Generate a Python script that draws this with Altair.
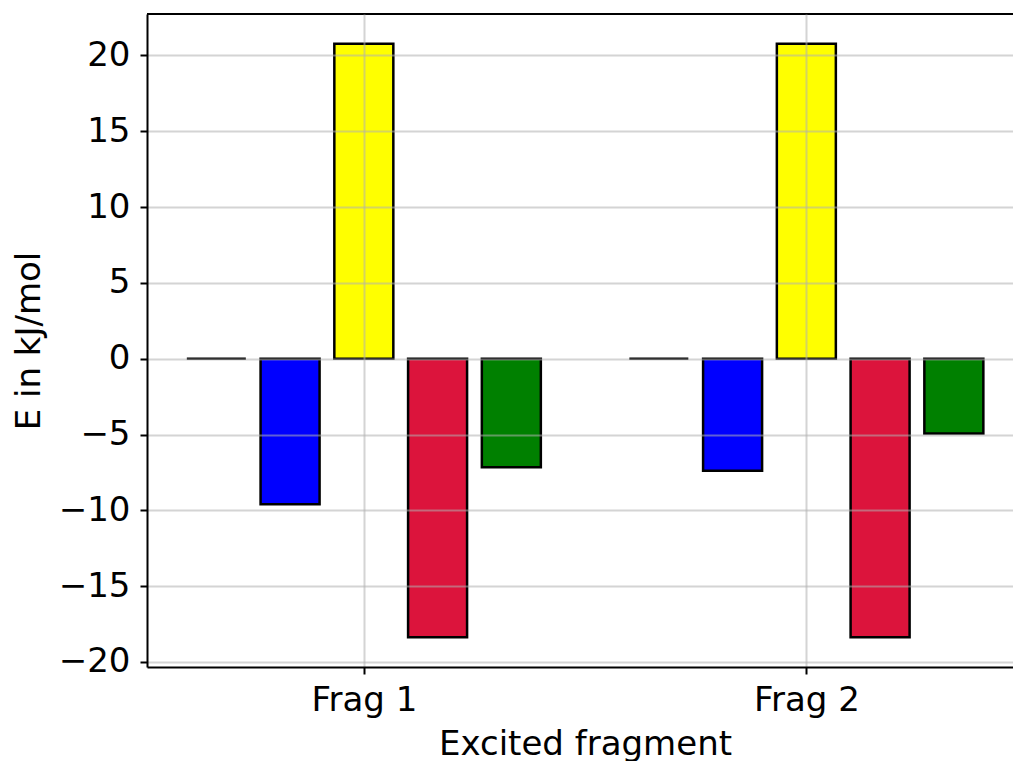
import altair as alt
import pandas as pd

fragments = ["Frag 1", "Frag 2"]
series = ["S0", "S1", "S2", "S3", "S4"]
colors = ["#808080", "#0000ff", "#ffff00", "#dc143c", "#008000"]
frag1_values = [0.0, -9.6, 20.77, -18.37, -7.15]
frag2_values = [0.0, -7.39, 20.77, -18.37, -4.93]
y_ticks = [-20, -15, -10, -5, 0, 5, 10, 15, 20]

rows = []
for gi, (frag, vals) in enumerate(zip(fragments, [frag1_values, frag2_values])):
    for si, (s, v) in enumerate(zip(series, vals)):
        rows.append({"frag": frag, "gi": gi, "series": s, "si": si, "value": v})
df = pd.DataFrame(rows)

n = len(series)
step = 1.0 / (n + 1)
half = 0.8 * step / 2

label_expr = " : ".join(
    [f"datum.value == {i} ? '{f}'" for i, f in enumerate(fragments)]
) + " : ''"

W, H = 866, 653

bars = alt.Chart(df).transform_calculate(
    xc=f"datum.gi + (datum.si - {(n - 1) / 2}) * {step}"
).transform_calculate(
    x0=f"datum.xc - {half}", x1=f"datum.xc + {half}"
).mark_bar(stroke="black", strokeWidth=2.5, clip=True).encode(
    x=alt.X("x0:Q",
            scale=alt.Scale(domain=[-0.49, 1.467], nice=False, zero=False),
            axis=alt.Axis(values=list(range(len(fragments))), labelExpr=label_expr,
                          title="Excited fragment", titleX=438, grid=True, zindex=1,
                          labelPadding=9, titlePadding=10)),
    x2="x1:Q",
    y=alt.Y("value:Q",
            scale=alt.Scale(domain=[-20.33, 22.73], nice=False, zero=False),
            axis=alt.Axis(values=y_ticks, title="E in kJ/mol", grid=True, zindex=1,
                          labelPadding=10, titlePadding=12,
                          labelExpr="datum.value < 0 ? '\u2212' + abs(datum.value) : '' + datum.value")),
    y2=alt.datum(0),
    color=alt.Color("series:N", scale=alt.Scale(domain=series, range=colors), legend=None),
)

top_spine = alt.Chart(pd.DataFrame({"a": [0]})).mark_rule(
    color="black", strokeWidth=2
).encode(x=alt.value(0), x2=alt.value(W), y=alt.value(0))

chart = alt.layer(bars, top_spine).properties(
    width=W, height=H,
    autosize=alt.AutoSizeParams(type="none"),
    padding={"left": 147, "top": 14, "right": 0, "bottom": 94},
).configure_view(stroke=None).configure_axis(
    labelFont="DejaVu Sans", titleFont="DejaVu Sans",
    labelFontSize=34, titleFontSize=34, titleFontWeight="normal",
    labelColor="black", titleColor="black",
    domainColor="black", domainWidth=2,
    tickColor="black", tickWidth=2, tickSize=7,
    gridColor="#b0b0b0", gridOpacity=0.55, gridWidth=2,
)

chart.save("out.html", embed_options={"renderer": "svg", "actions": False})
